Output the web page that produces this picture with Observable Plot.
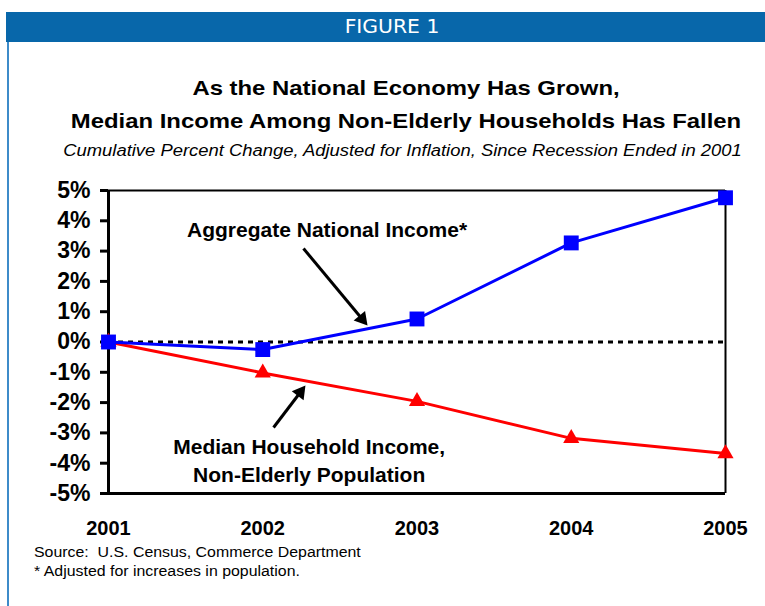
<!DOCTYPE html>
<html>
<head>
<meta charset="utf-8">
<script src="https://cdn.jsdelivr.net/npm/d3@7"></script>
<script src="https://cdn.jsdelivr.net/npm/@observablehq/plot@0.6"></script>
<style>
  body { margin: 0; background: #fff; }
  #wrap { position: relative; width: 765px; height: 606px; overflow: hidden; font-family: "Liberation Sans", Arial, sans-serif; color: #000; }
  #frame { position: absolute; left: 7px; top: 12px; width: 900px; height: 800px; border-left: 2px solid #3d8bc9; }
  #band { position: absolute; left: 6px; top: 12px; width: 900px; height: 30px; background: #0867aa; }
  #band span { position: absolute; left: 0; width: 772px; top: 4px; text-align: center; color: #fff; font-family: "DejaVu Sans Condensed", "DejaVu Sans", sans-serif; font-size: 20px; line-height: 20px; transform: scaleX(1.13); transform-origin: 386px 0; }
  .t { position: absolute; left: 0; text-align: center; white-space: nowrap; }
  #t1, #t2 { width: 812px; font-weight: bold; font-size: 21px; line-height: 21px; transform: scaleX(1.137); transform-origin: 406px 0; }
  #t1 { top: 77px; }
  #t2 { top: 110px; }
  #sub { width: 805px; top: 143px; font-style: italic; font-size: 16px; line-height: 16px; transform: scaleX(1.15); transform-origin: 402.5px 0; }
  .note { position: absolute; left: 34px; font-size: 14px; line-height: 14px; white-space: nowrap; transform: scaleX(1.135); transform-origin: 0 0; }
  #src { top: 545px; }
  #fn { top: 564px; }
  #chart { position: absolute; left: 0; top: 0; }
</style>
</head>
<body>
<div id="wrap">
  <div id="frame"></div>
  <div id="band"><span>FIGURE 1</span></div>
  <div class="t" id="t1">As the National Economy Has Grown,</div>
  <div class="t" id="t2">Median Income Among Non-Elderly Households Has Fallen</div>
  <div class="t" id="sub">Cumulative Percent Change, Adjusted for Inflation, Since Recession Ended in 2001</div>
  <div class="note" id="src">Source:&nbsp; U.S. Census, Commerce Department</div>
  <div class="note" id="fn">* Adjusted for increases in population.</div>
  <div id="chart"></div>
</div>
<script>
// ---- data ----
const years = [2001, 2002, 2003, 2004, 2005];
const aggregateNationalIncome = [0, -0.25, 0.76, 3.27, 4.76];
const medianHouseholdIncome = [0, -1.02, -1.96, -3.18, -3.68];
const yTicks = [-5, -4, -3, -2, -1, 0, 1, 2, 3, 4, 5];
const aggregateLabel = "Aggregate National Income*";
const medianLabel = "Median Household Income,\nNon-Elderly Population";

// annotation anchors (data coordinates)
const aggText = [{x: 2002.417, y: 3.686, label: aggregateLabel}];
const medText = [{x: 2002.301, y: -3.861, label: medianLabel}];
const aggArrow = [{x1: 2002.264, y1: 3.086, x2: 2002.679, y2: 0.545}];
const medArrow = [{x1: 2002.070, y1: -2.822, x2: 2002.277, y2: -1.436}];

const agg = years.map((year, i) => ({year, value: aggregateNationalIncome[i]}));
const med = years.map((year, i) => ({year, value: medianHouseholdIncome[i]}));

const chart = Plot.plot({
  width: 765,
  height: 606,
  marginTop: 190,
  marginBottom: 113,
  marginLeft: 108,
  marginRight: 40,
  style: {fontFamily: "'Liberation Sans', Arial, sans-serif", background: "transparent", overflow: "visible", color: "black"},
  x: {domain: [2001, 2005]},
  y: {domain: [-5, 5]},
  marks: [
    Plot.ruleY([0], {stroke: "black", strokeWidth: 3, strokeDasharray: "5,5"}),
    Plot.ruleY([5], {stroke: "black", strokeWidth: 2}),
    Plot.ruleX([2005], {stroke: "black", strokeWidth: 2}),
    Plot.ruleY([-5], {stroke: "black", strokeWidth: 3, x1: 2001, x2: 2005}),
    Plot.ruleX([2001], {stroke: "black", strokeWidth: 3}),
    Plot.axisY({ticks: yTicks, tickFormat: d => d + "%", tickSize: 8, tickPadding: 10, strokeWidth: 3, fontSize: 23, fontWeight: "bold", label: null}),
    Plot.axisX({ticks: years, tickFormat: d => String(d), tickSize: 0, tickPadding: 27, fontSize: 20, fontWeight: "bold", label: null}),
    Plot.line(med, {x: "year", y: "value", stroke: "#ff0000", strokeWidth: 3}),
    Plot.dot(med, {x: "year", y: "value", symbol: "triangle", r: 6, fill: "#ff0000", stroke: "none"}),
    Plot.line(agg, {x: "year", y: "value", stroke: "#0000ff", strokeWidth: 3}),
    Plot.dot(agg, {x: "year", y: "value", symbol: "square", r: 8.4, fill: "#0000ff", stroke: "none"}),
    Plot.arrow(aggArrow, {x1: "x1", y1: "y1", x2: "x2", y2: "y2", headLength: 0, insetEnd: 10, stroke: "black", strokeWidth: 3, strokeLinecap: "butt"}),
    Plot.dot(aggArrow, {x: "x2", y: "y2", symbol: "triangle", r: 5.5, rotate: 140.3, dx: -5.4, dy: -6.5, fill: "black", stroke: "none"}),
    Plot.arrow(medArrow, {x1: "x1", y1: "y1", x2: "x2", y2: "y2", headLength: 0, insetEnd: 10, stroke: "black", strokeWidth: 3, strokeLinecap: "butt"}),
    Plot.dot(medArrow, {x: "x2", y: "y2", symbol: "triangle", r: 5.5, rotate: 37.3, dx: -5.2, dy: 6.8, fill: "black", stroke: "none"}),
    Plot.text(aggText, {x: "x", y: "y", text: "label", fontSize: 21, fontWeight: "bold", fill: "black"}),
    Plot.text(medText, {x: "x", y: "y", text: "label", fontSize: 21, fontWeight: "bold", fill: "black", lineHeight: 1.35})
  ]
});
document.getElementById("chart").appendChild(chart);
</script>
</body>
</html>
